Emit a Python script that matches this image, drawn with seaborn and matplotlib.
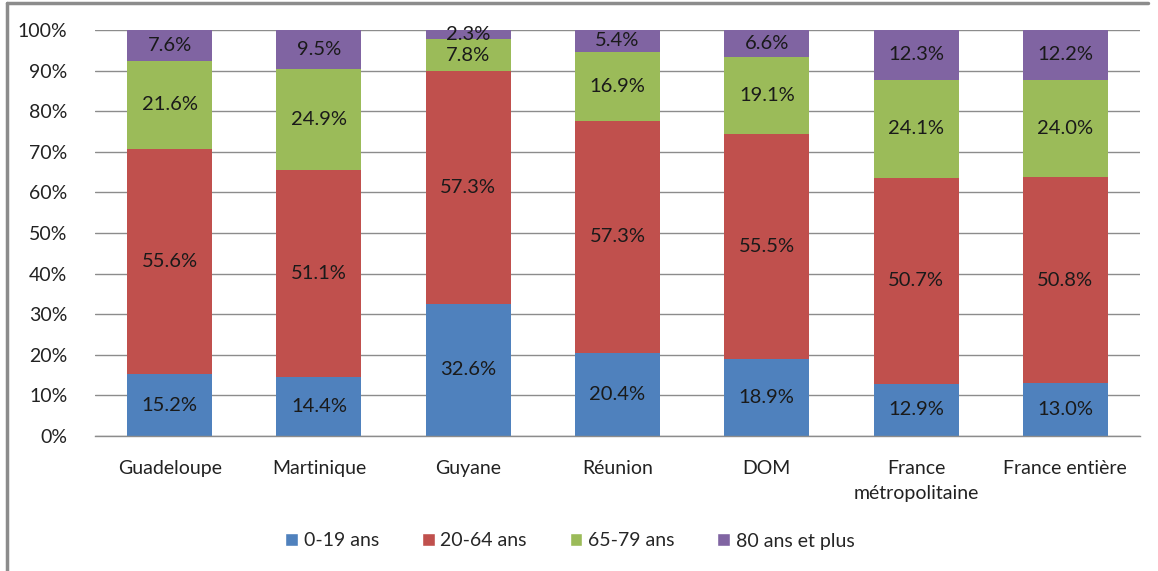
import pandas as pd
import numpy as np
import matplotlib
matplotlib.use("Agg")
import matplotlib.pyplot as plt
import seaborn as sns
from matplotlib.patches import Patch
from matplotlib.lines import Line2D

regions = ["Guadeloupe", "Martinique", "Guyane", "Réunion", "DOM",
           "France\nmétropolitaine", "France entière"]
age_groups = ["0-19 ans", "20-64 ans", "65-79 ans", "80 ans et plus"]
pct_0_19 = [15.2, 14.4, 32.6, 20.4, 18.9, 12.9, 13.0]
pct_20_64 = [55.6, 51.1, 57.3, 57.3, 55.5, 50.7, 50.8]
pct_65_79 = [21.6, 24.9, 7.8, 16.9, 19.1, 24.1, 24.0]
pct_80_plus = [7.6, 9.5, 2.3, 5.4, 6.6, 12.3, 12.2]
colors = ["#4F81BD", "#C0504D", "#9BBB59", "#8064A2"]

sns.set_theme(style="white")
plt.rcParams["font.family"] = ["Lato", "DejaVu Sans"]

df = pd.DataFrame({"region": regions, "0-19 ans": pct_0_19, "20-64 ans": pct_20_64,
                   "65-79 ans": pct_65_79, "80 ans et plus": pct_80_plus})
series = df[age_groups]
cum = series.cumsum(axis=1)
# scale so the stacks end at exactly 100%
totals = cum[age_groups[-1]]

fig = plt.figure(figsize=(11.58, 5.71), dpi=100)
ax = fig.add_axes([95 / 1158, 1 - 436 / 571, 1045 / 1158, 406 / 571])

# draw cumulative totals from the top series down so each overlays the previous
for grp, col in zip(reversed(age_groups), reversed(colors)):
    heights = cum[grp] / totals * 100
    sns.barplot(x=df["region"], y=heights, color=col, width=0.57, saturation=1,
                ax=ax, zorder=2, linewidth=0)

for i in range(len(regions)):
    bottom = 0
    for grp in age_groups:
        v = series[grp].iloc[i]
        h = v / totals.iloc[i] * 100
        ax.text(i, bottom + h / 2, f"{v:.1f}%", ha="center", va="center",
                fontsize=14.5, color="#1a1a1a", zorder=3)
        bottom += h

ax.set_ylim(0, 100)
ax.set_xlim(-0.5, len(regions) - 0.5)
ax.set_yticks(np.arange(0, 101, 10))
ax.set_yticklabels([f"{t}%" for t in range(0, 101, 10)], fontsize=14, color="#222222")
ax.tick_params(axis="x", labelsize=14, colors="#222222", length=0, pad=17)
for lbl in ax.get_xticklabels():
    lbl.set_linespacing(1.6)
ax.tick_params(axis="y", length=0, pad=20)
ax.set_xlabel("")
ax.set_ylabel("")
ax.grid(axis="y", color="#8c8c8c", linewidth=1, zorder=0)
ax.set_axisbelow(True)
for s in ["top", "right", "left"]:
    ax.spines[s].set_visible(False)
ax.spines["bottom"].set_color("#8c8c8c")
ax.spines["bottom"].set_linewidth(1)

handles = [Patch(facecolor=c, label=g) for c, g in zip(colors, age_groups)]
fig.legend(handles=handles, loc="center", bbox_to_anchor=(570 / 1158, 1 - 541 / 571),
           ncol=4, frameon=False, fontsize=14, handlelength=0.65, handleheight=0.65,
           handletextpad=0.3, columnspacing=2.2)

# outer frame of the chart area (top and left edges visible)
fig.add_artist(Line2D([7 / 1158, 7 / 1158], [0, 1 - 3 / 571], color="#8c8c8c", lw=2.5,
                      transform=fig.transFigure))
fig.add_artist(Line2D([7 / 1158, 1148 / 1158], [1 - 3 / 571, 1 - 3 / 571], color="#8c8c8c",
                      lw=2.5, transform=fig.transFigure))

fig.savefig("out.png", dpi=100)
